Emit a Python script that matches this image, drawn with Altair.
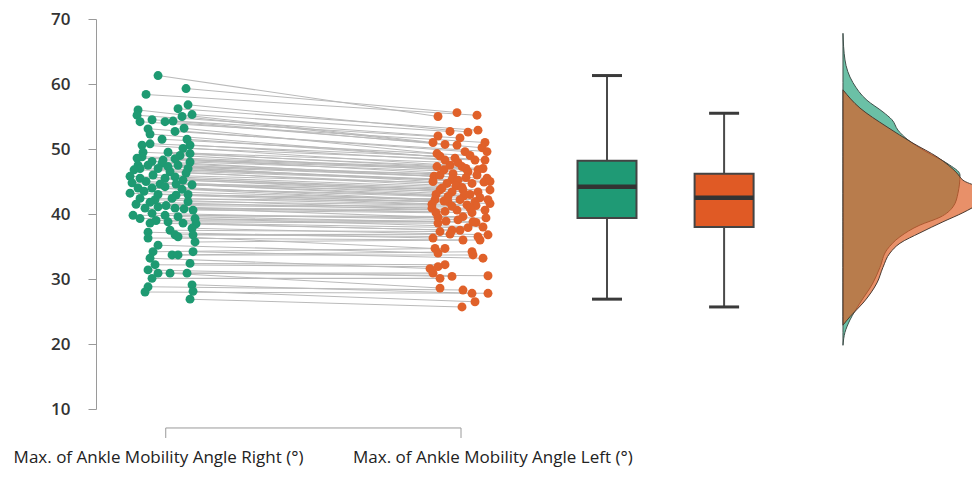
import altair as alt
import pandas as pd

# ---------------- data ----------------
# Right ankle (green) points: value (deg) and horizontal jitter (px offset from group centre)
RIGHT_Y = [61.3, 59.3, 58.4, 56.8, 56.2, 56.0, 55.3, 55.2, 55.0, 54.5, 54.3, 54.2, 54.2, 53.2, 53.1,
           52.7, 52.3, 51.5, 51.5, 50.8, 50.6, 50.6, 50.1, 49.5, 49.5, 49.3, 49.0, 48.8, 48.6, 48.5,
           48.3, 48.1, 48.0, 47.8, 47.5, 47.5, 47.5, 47.3, 47.0, 47.0, 47.0, 46.8, 46.5, 46.3, 46.0,
           45.8, 45.7, 45.5, 45.5, 45.2, 45.0, 44.8, 44.6, 44.6, 44.5, 44.2, 44.0, 44.0, 43.8, 43.5,
           43.2, 43.0, 43.0, 42.9, 42.4, 42.4, 42.2, 41.9, 41.8, 41.5, 41.3, 41.1, 40.9, 40.9, 40.8,
           40.6, 40.1, 39.8, 39.8, 39.6, 39.3, 39.3, 39.0, 38.8, 38.6, 38.6, 38.5, 37.8, 37.5, 37.2,
           36.8, 36.8, 36.5, 36.3, 35.7, 35.2, 34.2, 34.2, 33.7, 33.7, 33.2, 32.4, 32.2, 31.4, 30.9,
           30.9, 30.9, 30.1, 29.1, 28.8, 28.1, 28.0, 26.9]
RIGHT_JIT = [-5, 23, -17, 25, 15, -25, 29, -26, 19, -11, 10, -23, 2, 21, -15,
             12, -13, -1, 24, -13, 27, -21, 20, -20, 5, 27, 17, -21, -26, 12,
             0, -11, 27, -1, -25, -15, 15, 5, -5, 25, -23, -29, 7, 23, -10,
             -33, 12, -23, 2, 20, -17, -31, -3, 13, 29, 2, -25, -11, 19, -19,
             -33, -5, 25, 13, -23, 9, -8, 25, -13, -27, 3, -5, -18, 12, 21,
             30, -11, 2, -30, 15, -23, 32, -7, 5, -13, 20, 33, 29, 7, -15,
             12, 30, 15, -15, 32, -5, -10, 30, 9, 15, -13, 27, -8, -15, -5,
             7, 24, -11, 29, -15, 30, -18, 27]

# Left ankle (orange) points, sorted by value, with jitter (px offset from group centre)
LEFT_Y = [55.6, 55.2, 55.0, 52.9, 52.7, 52.6, 52.0, 51.7, 51.0, 51.0, 50.7, 50.6, 50.2, 49.6, 49.6,
          49.3, 49.0, 48.9, 48.6, 48.3, 48.3, 48.3, 47.9, 47.5, 47.3, 47.3, 47.0, 47.0, 46.8, 46.8,
          46.5, 46.2, 46.0, 46.0, 45.8, 45.6, 45.5, 45.3, 45.2, 45.0, 45.0, 44.9, 44.7, 44.7, 44.3,
          44.1, 44.0, 43.7, 43.7, 43.7, 43.4, 43.4, 43.0, 43.0, 42.8, 42.7, 42.5, 42.2, 42.2, 42.2,
          42.0, 41.9, 41.9, 41.6, 41.5, 41.4, 41.3, 41.2, 40.9, 40.9, 40.6, 40.6, 40.4, 40.2, 40.2,
          39.6, 39.5, 39.4, 39.1, 38.9, 38.8, 38.7, 38.6, 38.0, 37.9, 37.5, 37.5, 37.3, 36.9, 36.8,
          36.5, 36.3, 36.0, 36.0, 34.7, 34.7, 34.2, 34.0, 33.7, 33.2, 32.2, 31.9, 31.6, 30.9, 30.5,
          30.4, 30.1, 28.6, 28.3, 27.8, 27.8, 26.5, 25.7]
LEFT_JIT = [-4, 16, -23, 17, -11, 7, -23, -1, -28, 24, -16, -4, 21, 4, 26,
            -24, 9, -21, -6, -16, 14, 24, -3, -11, -24, 1, 22, 5, -17, 17,
            7, -8, -21, 16, -27, 5, 26, -9, -3, -28, 29, 23, -14, 11, -5,
            1, -19, -21, 2, 29, -9, 17, 9, -25, 3, -13, 19, -26, -1, 27,
            -17, -13, 14, 29, -29, 6, 15, -9, -29, 9, -4, 24, -16, 11, -25,
            2, -23, 25, -3, -15, 12, 15, -23, 22, 7, -9, -1, -21, -11, 27,
            17, -28, 2, 19, -26, -16, 11, -23, 12, 22, -16, -23, -31, -28, 27,
            -9, -21, -21, 2, 11, 27, 14, 1]

# which left point (1-based rank) each right point is connected to
PAIR = [3, 1, 2, 6, 4, 9, 5, 7, 11, 8, 13, 10, 12, 16, 14, 15, 19, 17, 22, 18, 20, 24, 21, 26, 23,
        25, 29, 27, 28, 32, 30, 35, 31, 33, 37, 34, 36, 40, 38, 42, 39, 41, 45, 43, 44, 48, 46, 51,
        47, 49, 53, 50, 52, 56, 54, 58, 55, 57, 61, 59, 64, 60, 62, 66, 63, 65, 69, 67, 71, 68, 70,
        74, 72, 77, 73, 75, 79, 76, 78, 82, 80, 84, 81, 83, 87, 85, 86, 90, 88, 92, 89, 91, 95, 93,
        94, 98, 96, 100, 97, 99, 103, 101, 102, 106, 104, 108, 105, 107, 110, 109, 112, 111, 113]

# Box plot statistics
BOX_GROUP = ["Right", "Left"]
BOX_MIN = [26.9, 25.7]
BOX_Q1 = [39.4, 38.0]
BOX_MED = [44.2, 42.5]
BOX_Q3 = [48.2, 46.2]
BOX_MAX = [61.3, 55.5]

# Density outlines: value (deg) and relative density width
DG_Y = [67.8, 63.7, 60.2, 57.5, 55.7, 54.5, 52.9, 51.4, 49.5, 47.8, 46.0, 43.2, 41.1, 39.5, 38.3,
        36.5, 34.5, 31.8, 29.4, 26.3, 23.7, 21.8, 19.8]
DG_W = [0, 2, 10, 24, 40, 49, 55, 65, 84, 104, 117, 115, 110, 97, 77, 57, 44, 37, 30, 17, 7, 2, 0]
DO_Y = [59.1, 56.3, 53.4, 50.9, 48.8, 46.3, 45.2, 43.2, 41.7, 40.2, 38.8, 37.1, 35.5, 34.0, 31.8,
        29.4, 26.3, 24.2, 22.9]
DO_W = [0, 17, 44, 70, 94, 114, 120, 147, 137, 120, 100, 77, 57, 47, 40, 34, 20, 7, 0]

LABELS = ["Max. of Ankle Mobility Angle Right (°)", "Max. of Ankle Mobility Angle Left (°)"]
Y_TICKS = [10, 20, 30, 40, 50, 60, 70]

# ---------------- layout constants ----------------
PX = 1 / 298.0           # one pixel in x units
POS_R, POS_L = 1.0, 2.0
BOX_POS = [2.49, 2.883]
BOX_HALF = 29.5 * PX
CAP_HALF = 15 * PX
DENS_BASE = 3.282
LABEL_X = [0.985, 2.107]
LABEL_Y = 1.75
GREEN = "#1e9a72"
ORANGE = "#e0612a"
BOX_GREEN = "#1f9a75"
BOX_ORANGE = "#e05a25"

xscale = alt.Scale(domain=[0.775, 3.715], nice=False, zero=False)
yscale = alt.Scale(domain=[10, 70], nice=False, zero=False)
yaxis = alt.Axis(values=Y_TICKS, title=None, grid=False, tickSize=8, tickColor="#9a9a9a",
                 domainColor="#9a9a9a", labelFont="Open Sans", labelFontSize=17,
                 labelFontWeight=600, labelColor="#333333", labelPadding=18)


def Y(field):
    return alt.Y(field, scale=yscale, axis=yaxis, title=None)


def X(field):
    return alt.X(field, scale=xscale, axis=None)


pairs = pd.DataFrame({
    "xr": [POS_R + j * PX for j in RIGHT_JIT],
    "yr": RIGHT_Y,
    "xl": [POS_L + LEFT_JIT[p - 1] * PX for p in PAIR],
    "yl": [LEFT_Y[p - 1] for p in PAIR],
})

lines = alt.Chart(pairs).mark_rule(color="#bababa", strokeWidth=1.05).encode(
    x=X("xr:Q"), y=Y("yr:Q"), x2="xl:Q", y2="yl:Q")

pts_r = alt.Chart(pairs).mark_circle(size=80, color=GREEN, opacity=1).encode(
    x=X("xr:Q"), y=Y("yr:Q"))
pts_l = alt.Chart(pairs).mark_circle(size=80, color=ORANGE, opacity=1).encode(
    x=X("xl:Q"), y=Y("yl:Q"))

box = pd.DataFrame({"g": BOX_GROUP, "pos": BOX_POS, "lo": BOX_MIN, "q1": BOX_Q1,
                    "med": BOX_MED, "q3": BOX_Q3, "hi": BOX_MAX})
boxbase = alt.Chart(box).transform_calculate(
    bl=f"datum.pos - {BOX_HALF}", br=f"datum.pos + {BOX_HALF}",
    cl=f"datum.pos - {CAP_HALF}", cr=f"datum.pos + {CAP_HALF}")
whisk = boxbase.mark_rule(color="#4a4a4a", strokeWidth=2).encode(
    x=X("pos:Q"), y=Y("lo:Q"), y2="hi:Q")
cap_hi = boxbase.mark_rule(color="#3a3a3a", strokeWidth=3).encode(
    x=X("cl:Q"), x2="cr:Q", y=Y("hi:Q"))
cap_lo = boxbase.mark_rule(color="#3a3a3a", strokeWidth=3).encode(
    x=X("cl:Q"), x2="cr:Q", y=Y("lo:Q"))
rect = boxbase.mark_rect(stroke="#444444", strokeWidth=2).encode(
    x=X("bl:Q"), x2="br:Q", y=Y("q1:Q"), y2="q3:Q",
    fill=alt.Fill("g:N", scale=alt.Scale(domain=BOX_GROUP, range=[BOX_GREEN, BOX_ORANGE]), legend=None))
med = boxbase.mark_rule(color="#333333", strokeWidth=4.5).encode(
    x=X("bl:Q"), x2="br:Q", y=Y("med:Q"))

dg = pd.DataFrame({"v": DG_Y, "x": [DENS_BASE + w * PX for w in DG_W], "b": DENS_BASE})
do = pd.DataFrame({"v": DO_Y, "x": [DENS_BASE + w * PX for w in DO_W], "b": DENS_BASE})
dens_g = alt.Chart(dg).mark_area(orient="horizontal", color="#1b9e77", fillOpacity=0.65,
                                 stroke="#3f4f4a", strokeWidth=1, interpolate="monotone").encode(
    y=Y("v:Q"), x=X("x:Q"), x2="b:Q")
dens_o = alt.Chart(do).mark_area(orient="horizontal", color="#dd5c22", fillOpacity=0.68,
                                 stroke="#4a3a30", strokeWidth=1, interpolate="monotone").encode(
    y=Y("v:Q"), x=X("x:Q"), x2="b:Q")

# bracket under the two point clouds
brk = pd.DataFrame({"x1": [POS_R + 2.7 * PX], "x2": [POS_L], "y": [7.08], "yb": [5.54]})
brk_h = alt.Chart(brk).mark_rule(color="#9a9a9a", strokeWidth=1).encode(
    x=X("x1:Q"), x2="x2:Q", y=Y("y:Q"))
brk_t1 = alt.Chart(brk).mark_rule(color="#9a9a9a", strokeWidth=1).encode(
    x=X("x1:Q"), y=Y("y:Q"), y2="yb:Q")
brk_t2 = alt.Chart(brk).mark_rule(color="#9a9a9a", strokeWidth=1).encode(
    x=X("x2:Q"), y=Y("y:Q"), y2="yb:Q")

lab = pd.DataFrame({"t": LABELS, "x": LABEL_X, "y": [LABEL_Y, LABEL_Y]})
labels = alt.Chart(lab).mark_text(font="Open Sans", fontSize=17, color="#222222",
                                  baseline="alphabetic", align="center").encode(
    x=X("x:Q"), y=Y("y:Q"), text="t:N")

chart = alt.layer(
    lines, pts_r, pts_l, whisk, cap_hi, cap_lo, rect, med, dens_g, dens_o,
    brk_h, brk_t1, brk_t2, labels
).properties(
    width=876, height=390,
    padding={"left": 88, "top": 11, "right": 0, "bottom": 60},
    autosize=alt.AutoSizeParams(type="none"),
    background="white",
).configure_view(strokeWidth=0)

chart.save("out.html", embed_options={"renderer": "svg", "actions": False})
